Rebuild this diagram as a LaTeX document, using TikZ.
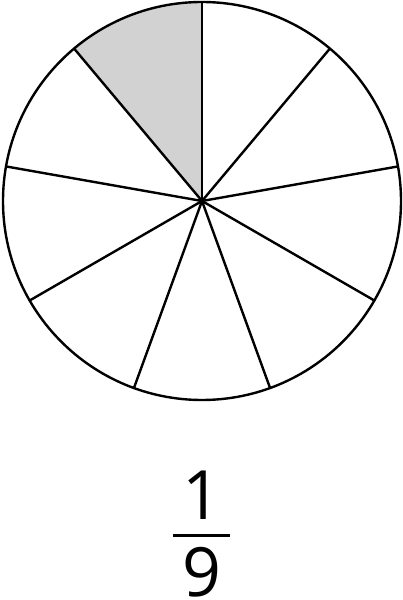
\documentclass[tikz,border=0pt]{standalone}
\usepackage{fontspec}
\setmainfont{Open Sans}
\begin{document}
\begin{tikzpicture}[x=1pt,y=1pt,
  rim/.style={line width=2.4pt},
  spoke/.style={line width=2.4pt},
  digit/.style={font=\fontsize{68}{68}\selectfont, inner sep=0pt, anchor=base}]
\useasboundingbox (0,0) rectangle (403,600);
\coordinate (c) at (202,399);
\fill[gray!35] (c) -- ++(90:199) arc[start angle=90,end angle=130,radius=199] -- cycle;
\foreach \a in {90,50,10,-30,-70,-110,-150,170,130}
  \draw[spoke] (c) -- ++(\a:199);
\draw[rim] (c) circle[radius=199];
\fill (c) circle[radius=3];
\node[digit] (num) at (202,80) {1};
\node[digit] (den) at (202,3.5) {9};
\coordinate (bl) at (173,64);
\coordinate (br) at (230,64);
\draw[line width=3pt] (bl) -- (br);
\end{tikzpicture}
\end{document}
